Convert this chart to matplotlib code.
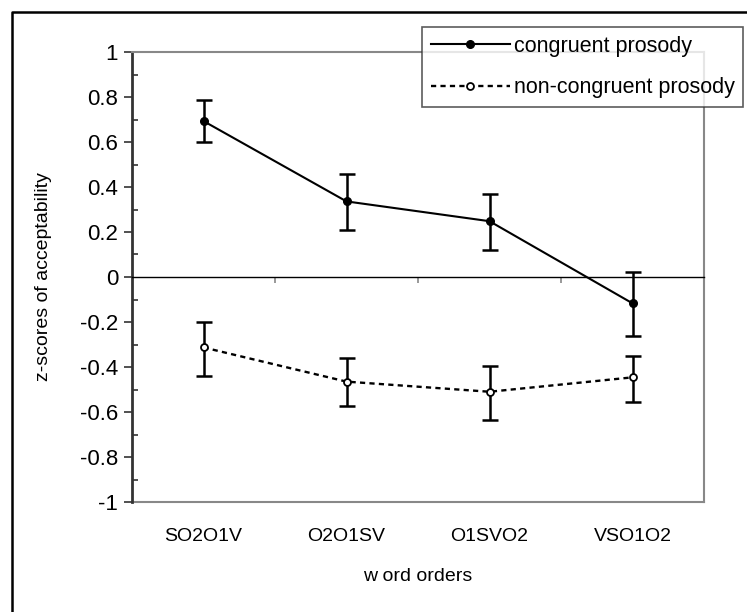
import matplotlib
matplotlib.use("Agg")
import matplotlib.pyplot as plt
from matplotlib.lines import Line2D
from matplotlib.ticker import MultipleLocator

plt.rcParams['font.family'] = ['Liberation Sans', 'DejaVu Sans']

# data
word_orders = ['SO2O1V', 'O2O1SV', 'O1SVO2', 'VSO1O2']
congruent = [0.693, 0.336, 0.248, -0.117]
congruent_lo = [0.600, 0.209, 0.120, -0.264]
congruent_hi = [0.787, 0.458, 0.369, 0.021]
noncongruent = [-0.313, -0.465, -0.510, -0.446]
noncongruent_lo = [-0.441, -0.573, -0.637, -0.557]
noncongruent_hi = [-0.200, -0.361, -0.397, -0.351]

x = [i + 0.5 for i in range(len(word_orders))]

fig = plt.figure(figsize=(7.47, 6.12), dpi=100)
ax = fig.add_axes([132 / 747, 1 - 502 / 612, 572 / 747, 450 / 612])

# error bars first, without legend entries
err_c = [[v - lo for v, lo in zip(congruent, congruent_lo)],
         [hi - v for v, hi in zip(congruent, congruent_hi)]]
ax.errorbar(x, congruent, yerr=err_c, fmt='none', ecolor='black',
            elinewidth=1.8, capsize=5.5, capthick=1.8, zorder=2)
err_n = [[v - lo for v, lo in zip(noncongruent, noncongruent_lo)],
         [hi - v for v, hi in zip(noncongruent, noncongruent_hi)]]
ax.errorbar(x, noncongruent, yerr=err_n, fmt='none', ecolor='black',
            elinewidth=1.8, capsize=5.5, capthick=1.8, zorder=2)

# the two series
ax.plot(x, congruent, color='black', lw=1.5, marker='o', ms=5.5,
        mfc='black', mec='black', label='congruent prosody', zorder=3)
ax.plot(x, noncongruent, color='black', lw=1.7, ls=(0, (2.2, 1.8)),
        marker='o', ms=5, mfc='white', mec='black', mew=1.3,
        label='non-congruent prosody', zorder=3)

ax.set_xlim(0, 4)
ax.set_ylim(-1, 1)

# y axis, Excel style
ax.set_yticks([-1, -0.8, -0.6, -0.4, -0.2, 0, 0.2, 0.4, 0.6, 0.8, 1])
ax.set_yticklabels(['-1', '-0.8', '-0.6', '-0.4', '-0.2', '0', '0.2', '0.4',
                    '0.6', '0.8', '1'])
ax.yaxis.set_minor_locator(MultipleLocator(0.1))
ax.tick_params(axis='y', which='major', direction='out', length=6,
               width=1.2, color='#333333', labelsize=16, pad=4)
ax.tick_params(axis='y', which='minor', direction='in', length=4,
               width=1.2, color='#333333')
ax.set_ylabel('z-scores of acceptability', fontsize=14, labelpad=20)

# x axis crosses at zero
ax.spines['bottom'].set_position(('data', 0))
ax.spines['bottom'].set_linewidth(1.0)
ax.spines['bottom'].set_color('black')
ax.set_xticks([1, 2, 3])
ax.set_xticklabels([])
ax.tick_params(axis='x', which='major', direction='out', length=4,
               width=1.2, color='#888888')

ax.spines['left'].set_color('#333333')
ax.spines['left'].set_linewidth(2)
for side in ['top', 'right']:
    ax.spines[side].set_color('#888888')
    ax.spines[side].set_linewidth(1.5)

# category labels along the plot bottom
sec = ax.secondary_xaxis(0)
sec.spines['bottom'].set_color('#888888')
sec.spines['bottom'].set_linewidth(1.5)
sec.set_xticks(x)
sec.set_xticklabels(word_orders, fontsize=14)
sec.tick_params(axis='x', length=0, pad=19)
sec.set_xlabel('w ord orders', fontsize=14, labelpad=16)

leg = fig.legend(loc='upper right', bbox_to_anchor=(743 / 747, 1 - 27 / 612),
                 fontsize=15.5, frameon=True, fancybox=False,
                 handlelength=3.7, handletextpad=0.15, borderpad=0.4,
                 labelspacing=0.95, borderaxespad=0)
leg.get_frame().set_edgecolor('#333333')
leg.get_frame().set_linewidth(1.2)

# outer chart frame (only top and left visible)
fig.lines.append(Line2D([12 / 747, 12 / 747, 1], [0, 1 - 12 / 612, 1 - 12 / 612],
                        transform=fig.transFigure, color='black', lw=1.8))

fig.savefig('out.png', dpi=100)
